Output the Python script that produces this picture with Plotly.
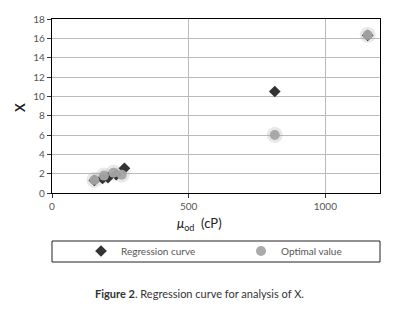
import plotly.graph_objects as go

reg_x = [155, 185, 205, 235, 265, 815, 1155]
reg_y = [1.3, 1.5, 1.6, 1.9, 2.55, 10.5, 16.3]
opt_x = [155, 190, 225, 255, 815, 1155]
opt_y = [1.35, 1.8, 2.1, 1.9, 6.0, 16.35]
x_ticks = [0, 500, 1000]
y_ticks = [0, 2, 4, 6, 8, 10, 12, 14, 16, 18]

FONT = "Lato"
TXT = "#555555"
OFF = 8  # page body margin
W, H = 415 - OFF, 317 - OFF
L, R, T, B = 52 - OFF, 380 - OFF, 19 - OFF, 193 - OFF
PW, PH = R - L, B - T


def px_x(x):  # page px -> paper x
    return (x - OFF - L) / PW


def px_y(y):  # page px -> paper y
    return (B - (y - OFF)) / PH


fig = go.Figure()
# soft halo behind optimal values
fig.add_trace(go.Scatter(x=opt_x, y=opt_y, mode="markers", showlegend=False, hoverinfo="skip",
                         marker=dict(symbol="circle", size=16, color="rgba(150,150,150,0.22)", line=dict(width=0))))
fig.add_trace(go.Scatter(x=reg_x, y=reg_y, mode="markers", name="Regression curve", legend="legend",
                         marker=dict(symbol="diamond", size=9, color="#333333", line=dict(width=0))))
fig.add_trace(go.Scatter(x=opt_x, y=opt_y, mode="markers", name="Optimal value", legend="legend2",
                         marker=dict(symbol="circle", size=10, color="rgba(165,165,165,0.95)", line=dict(width=0))))

leg_common = dict(yref="container", xref="container", yanchor="middle", xanchor="left",
                  y=1 - (251 - OFF) / H, font=dict(family=FONT, size=10, color=TXT),
                  bgcolor="rgba(0,0,0,0)")

fig.update_layout(
    width=W, height=H,
    margin=dict(l=L, r=W - R, t=T, b=H - B, autoexpand=False),
    paper_bgcolor="white", plot_bgcolor="white",
    font=dict(family=FONT, size=10, color=TXT),
    showlegend=True,
    legend=dict(x=(81 - OFF) / W, **leg_common),
    legend2=dict(x=(241 - OFF) / W, **leg_common),
    xaxis=dict(range=[0, 1200], tickvals=x_ticks, showgrid=True, gridcolor="#bbbbbb", gridwidth=1,
               showline=True, linecolor="black", linewidth=1.2, mirror=True, automargin=False,
               ticks="outside", ticklen=4, tickcolor="#333333", zeroline=False,
               tickfont=dict(size=10, color=TXT)),
    yaxis=dict(range=[0, 18], tickvals=y_ticks, showgrid=True, gridcolor="#bbbbbb", gridwidth=1,
               showline=True, linecolor="black", linewidth=1.2, mirror=True, automargin=False,
               ticks="outside", ticklen=4, tickcolor="#333333", zeroline=False,
               tickfont=dict(size=10, color=TXT)),
    shapes=[dict(type="rect", xref="paper", yref="paper", x0=0.0, x1=1.0,
                 y0=px_y(262), y1=px_y(241),
                 line=dict(color="#222222", width=1), fillcolor="rgba(0,0,0,0)")],
    annotations=[
        dict(text="<i>μ</i><sub>od</sub>  (cP)", xref="paper", yref="paper", x=px_x(199), y=px_y(224),
             xanchor="center", yanchor="middle", showarrow=False, font=dict(family=FONT, size=13, color="#222222")),
        dict(text="<b>X</b>", xref="paper", yref="paper", x=px_x(20), y=px_y(108), textangle=-90,
             xanchor="center", yanchor="middle", showarrow=False, font=dict(family=FONT, size=13, color="#222222")),
        dict(text="<b>Figure 2</b>. Regression curve for analysis of X.", xref="paper", yref="paper",
             x=px_x(199), y=px_y(293), xanchor="center", yanchor="middle", showarrow=False,
             font=dict(family=FONT, size=11, color="#333333")),
    ],
)

fig.write_html("out.html")
